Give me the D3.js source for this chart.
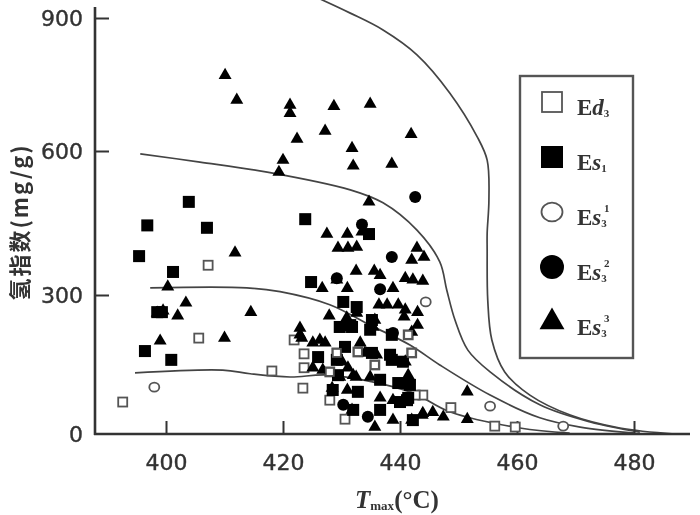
<!DOCTYPE html>
<html><head><meta charset="utf-8">
<script src="https://cdn.jsdelivr.net/npm/d3@7"></script>
<style>html,body{margin:0;background:#fff}svg{display:block;filter:blur(0.7px)}</style></head>
<body><svg id="c" width="700" height="515"></svg>
<script>
const xTicks=[400,420,440,460,480];
const yTicks=[0,300,600,900];
const openSquares=[[392.6,69],[407.2,362],[405.6,207],[418.1,136],[423.4,99],[423.6,143],[423.6,173],[421.9,203],[430.6,32],[428,73],[443.9,84],[442.6,84],[448.7,57],[456.2,17],[459.7,15],[441.4,214],[432.8,177],[429.2,175],[435.7,149],[442,175],[428,134]];
const filledSquares=[[403.9,494],[396.8,445],[407,440],[395.4,381],[401.2,348],[399.3,263],[398.5,263],[396.4,179],[400.9,160],[423.8,458],[424.8,327],[434.7,427],[430.3,285],[432.6,274],[429.7,231],[431.8,231],[434.9,225],[430.6,188],[438.6,160],[439.7,110],[432.8,91],[441.2,73],[436.6,52],[436.6,117],[426,166],[429.4,127],[441.7,106],[432,52],[435.2,246],[431.5,235],[438.6,214],[440.5,156],[429.2,160],[435.2,175],[438.3,171],[428.5,95],[441.4,78],[440,69],[442.2,30]];
const openCircles=[[398,101],[444.4,285],[455.4,60],[467.9,17]];
const filledCircles=[[442.6,504],[433.5,447],[438.6,379],[436.6,312],[429.2,335],[438.8,218],[430.3,63],[434.5,37]];
const triangles=[[410.1,771],[412.1,715],[421.2,704],[421.2,685],[428.7,701],[434.9,706],[441.9,638],[431.8,606],[422.4,627],[427.2,645],[420,581],[419.3,556],[432,569],[438.6,573],[434.7,494],
[411.8,388],[400.3,317],[414.5,263],[410,207],[399,201],[403.4,283],[402,255],[398.5,261],[399.5,266],
[427.5,427],[431,427],[433.5,432],[429.4,398],[431.1,398],[432.6,400],[442.9,398],[442,373],[444.1,379],[432.5,350],[429.2,332],[435.6,350],[436.6,341],[426.7,314],[431,314],[440.9,335],[442.2,332],[443.9,329],[438.8,314],[432.6,261],[436.4,279],[437.8,279],[439.7,279],[440.9,268],[440.7,253],[427.9,255],[430.9,251],[443,263],[443,235],[442,220],[435.4,231],[422.9,229],[422.9,214],[435.7,246],
[423.2,207],[426.3,203],[425.1,197],[427.2,197],[433.2,197],[425.1,143],[426.8,138],[430.1,156],[434,175],[436,171],[440.9,156],[431.1,143],[432.5,123],[434.9,123],[441.4,127],[428.4,99],[431,95],[438.8,73],[435.7,15],[438.8,30],[442,30],[443.9,45],[445.6,47],[447.4,37],[451.5,91],[451.5,32],[436.6,78],[429.7,123],[432,127],[431.8,52],[443.8,41]];
const curveA=[[426,945],[431.5,911],[437.1,873],[442.9,817],[448.5,731],[453.2,632],[454.9,581],[455.2,498],[454.9,429],[454.9,394],[455,289],[455.7,203],[457.9,134],[462.2,84],[469.1,41],[477.6,13],[487,0]];
const curveB=[[395.6,594],[405.8,577],[417.3,556],[431.5,519],[437.1,492],[442.9,435],[446.8,369],[448,310],[449.4,246],[451.6,181],[455.4,134],[463.9,63],[472.5,26],[481,4]];
const curveC=[[397.3,315],[413.8,315],[419.5,307],[428,279],[434.9,235],[441.7,192],[446.8,149],[455.4,84],[463.9,35],[470.8,15],[480.2,2]];
const curveD=[[394.7,132],[409.7,138],[414.4,130],[421.2,123],[428,127],[441.7,91],[448.5,48],[460.5,13],[469,2]];
const legendRows=[["E","d","3","","square0"],["E","s","1","","square1"],["E","s","3","1","circle0"],["E","s","3","2","circle1"],["E","s","3","3","tri"]];

const ink="#333";
const svg=d3.select("#c");
const x=d3.scaleLinear().domain([400,480]).range([166,634]);
const y=d3.scaleLinear().domain([0,300,600,900]).range([434,295,151,18]);

const line=d3.line().x(d=>x(d[0])).y(d=>y(d[1])).curve(d3.curveCatmullRom.alpha(0.5));
svg.append("g").selectAll("path").data([curveA,curveB,curveC,curveD]).join("path")
  .attr("d",line).attr("fill","none").attr("stroke","#444").attr("stroke-width",1.7);

const gx=svg.append("g").attr("transform","translate(0,434)").call(d3.axisBottom(x).tickValues(xTicks).tickSizeInner(0).tickSizeOuter(0));
gx.select(".domain").remove();
gx.append("line").attr("x1",94).attr("x2",690).attr("stroke",ink).attr("stroke-width",2.6);
gx.selectAll(".tick").append("line").attr("y1",0).attr("y2",-13).attr("stroke",ink).attr("stroke-width",2);
gx.selectAll(".tick text").attr("y",36).attr("dy",0).attr("fill",ink).attr("font-size",22).attr("font-family","DejaVu Sans").attr("stroke",ink).attr("stroke-width",0.4);
const gy=svg.append("g").attr("transform","translate(95,0)").call(d3.axisLeft(y).tickValues(yTicks).tickSizeInner(0).tickSizeOuter(0));
gy.select(".domain").remove();
gy.append("line").attr("y1",7).attr("y2",435).attr("stroke",ink).attr("stroke-width",2.6);
gy.selectAll(".tick").filter(d=>d!==0).append("line").attr("x1",0).attr("x2",14).attr("stroke",ink).attr("stroke-width",2);
gy.selectAll(".tick text").attr("x",-12).attr("dy","0.36em").attr("fill",ink).attr("font-size",22).attr("font-family","DejaVu Sans").attr("stroke",ink).attr("stroke-width",0.4);

function square(g,px,py,s,filled){g.append("rect").attr("x",px-s/2).attr("y",py-s/2).attr("width",s).attr("height",s)
  .attr("fill",filled?"#000":"#fff").attr("stroke",filled?"#000":"#555").attr("stroke-width",filled?0:1.8);}
function circle(g,px,py,r,filled){g.append("ellipse").attr("cx",px).attr("cy",py).attr("rx",r).attr("ry",r*(filled?1:0.9))
  .attr("fill",filled?"#000":"#fff").attr("stroke",filled?"#000":"#555").attr("stroke-width",filled?0:1.8);}
function tri(g,px,py,s){g.append("path").attr("d",d3.symbol(d3.symbolTriangle,s*s*0.43)()).attr("transform",`translate(${px},${py})`).attr("fill","#000");}

const pts=svg.append("g");
openSquares.forEach(d=>square(pts,x(d[0]),y(d[1]),9,false));
openCircles.forEach(d=>circle(pts,x(d[0]),y(d[1]),5,false));
filledSquares.forEach(d=>square(pts,x(d[0]),y(d[1]),12,true));
filledCircles.forEach(d=>circle(pts,x(d[0]),y(d[1]),6,true));
triangles.forEach(d=>tri(pts,x(d[0]),y(d[1]),13));
openSquares.slice(15).forEach(d=>square(pts,x(d[0]),y(d[1]),8,false));

svg.append("text").attr("transform","translate(28,222) rotate(-90)").attr("text-anchor","middle")
  .attr("font-family","Noto Sans CJK SC").attr("font-weight","bold").attr("font-size",22).attr("letter-spacing",2).attr("fill",ink).text("氢指数(mg/g)");
const xl=svg.append("text").attr("x",355).attr("y",508).attr("font-family","Liberation Serif").attr("font-weight","bold").attr("font-size",25).attr("fill",ink);
xl.append("tspan").attr("font-style","italic").text("T");
xl.append("tspan").attr("font-size",13).attr("dy",2).text("max");
xl.append("tspan").attr("dy",-2).text("(°C)");

const lg=svg.append("g");
lg.append("rect").attr("x",520).attr("y",76).attr("width",113).attr("height",282).attr("fill","#fff").attr("stroke","#555").attr("stroke-width",2.4);
const rowY=d3.scalePoint().domain(d3.range(legendRows.length)).range([102,322]);
legendRows.forEach((r,i)=>{
  const py=rowY(i);
  if(r[4]==="square0")square(lg,552,py,20,false);
  if(r[4]==="square1")square(lg,552,py,22,true);
  if(r[4]==="circle0")circle(lg,552,py,10.5,false);
  if(r[4]==="circle1")circle(lg,552,py,12,true);
  if(r[4]==="tri")tri(lg,552,py,25);
  const t=lg.append("text").attr("x",577).attr("y",py+13).attr("font-family","Liberation Serif").attr("font-weight","bold").attr("font-size",23).attr("fill",ink);
  t.append("tspan").text(r[0]);
  t.append("tspan").attr("font-style","italic").text(r[1]);
  t.append("tspan").attr("font-size",11).attr("dy",2).text(r[2]);
  if(r[3]) lg.append("text").attr("x",604).attr("y",py).attr("font-family","Liberation Serif").attr("font-size",11).attr("font-weight","bold").attr("fill",ink).text(r[3]);
});
</script></body></html>
